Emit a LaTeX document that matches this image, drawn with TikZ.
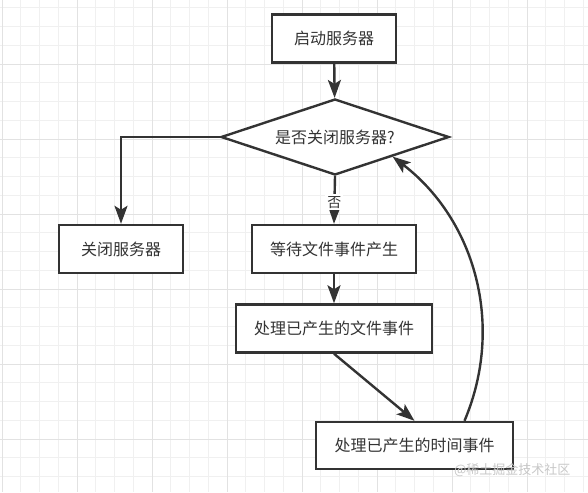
\documentclass[tikz,border=0pt]{standalone}
\usepackage{fontspec}
\setmainfont{Noto Sans CJK SC}
\usetikzlibrary{shapes.geometric, arrows.meta}
\definecolor{ink}{HTML}{333333}
\definecolor{gridminor}{HTML}{F0F0F0}
\definecolor{gridmajor}{HTML}{E2E2E2}
\tikzset{->,  % every connector is directed
>={Stealth[length=18pt, width=13pt, inset=4pt]}, % filled arrow heads
box/.style={draw=ink, line width=2.4pt, fill=white, text=ink, minimum height=48pt, font=\fontsize{16}{19}\selectfont}, % process boxes
decision/.style={diamond, aspect=3, draw=ink, line width=2.4pt, fill=white, text=ink, minimum width=228pt, minimum height=76pt, inner sep=1pt, font=\fontsize{16}{19}\selectfont}, % the question
flow/.style={draw=ink, line width=2.4pt}, % connectors
}

\begin{document}
\begin{tikzpicture}[x=1pt, y=-1pt]
    \useasboundingbox (0,0) rectangle (588,492);
    % background grid
    \foreach \k in {0,...,31} {
      \draw[-, gridminor, line width=0.8pt] (2+18.75*\k,0) -- (2+18.75*\k,492);
      \draw[-, gridminor, line width=0.8pt] (0,7.75+18.75*\k) -- (588,7.75+18.75*\k);
    }
    \foreach \gx in {2,77,...,527} \draw[-, gridmajor, line width=0.8pt] (\gx,0) -- (\gx,492);
    \foreach \gy in {64,139,...,439} \draw[-, gridmajor, line width=0.8pt] (0,\gy) -- (588,\gy);

    \node[box, minimum width=124pt] (start) at (334,38.5) {启动服务器};
    \node[decision] (ask) at (335,137) {是否关闭服务器?};
    \node[box, minimum width=124pt] (close) at (121,249) {关闭服务器};
    \node[box, minimum width=164pt] (wait) at (334,249) {等待文件事件产生};
    \node[box, minimum width=196pt] (fileev) at (334,328.5) {处理已产生的文件事件};
    \node[box, minimum width=197pt, minimum height=47pt] (timeev) at (414.5,445.5) {处理已产生的时间事件};
    \coordinate (loopstart) at ([xshift=50pt]timeev.north);

    \draw[flow] (start) -- (ask);
    \draw[flow] (ask.west) -| (close.north);
    \draw[flow] (ask.south) -- node[pos=0.55, fill=white, text=ink, inner sep=2pt, font=\fontsize{14}{16}\selectfont]{否} (wait.north);
    \draw[flow] (wait) -- (fileev);
    \draw[flow] (fileev.south) -- (timeev.north);
    \draw[flow] (loopstart) .. controls (505,325) and (475,220) .. (ask.south east);

    \node[-, text=black!22, font=\fontsize{13}{15}\selectfont, anchor=east] (mark) at (574,470) {@稀土掘金技术社区};
  \end{tikzpicture}
\end{document}
